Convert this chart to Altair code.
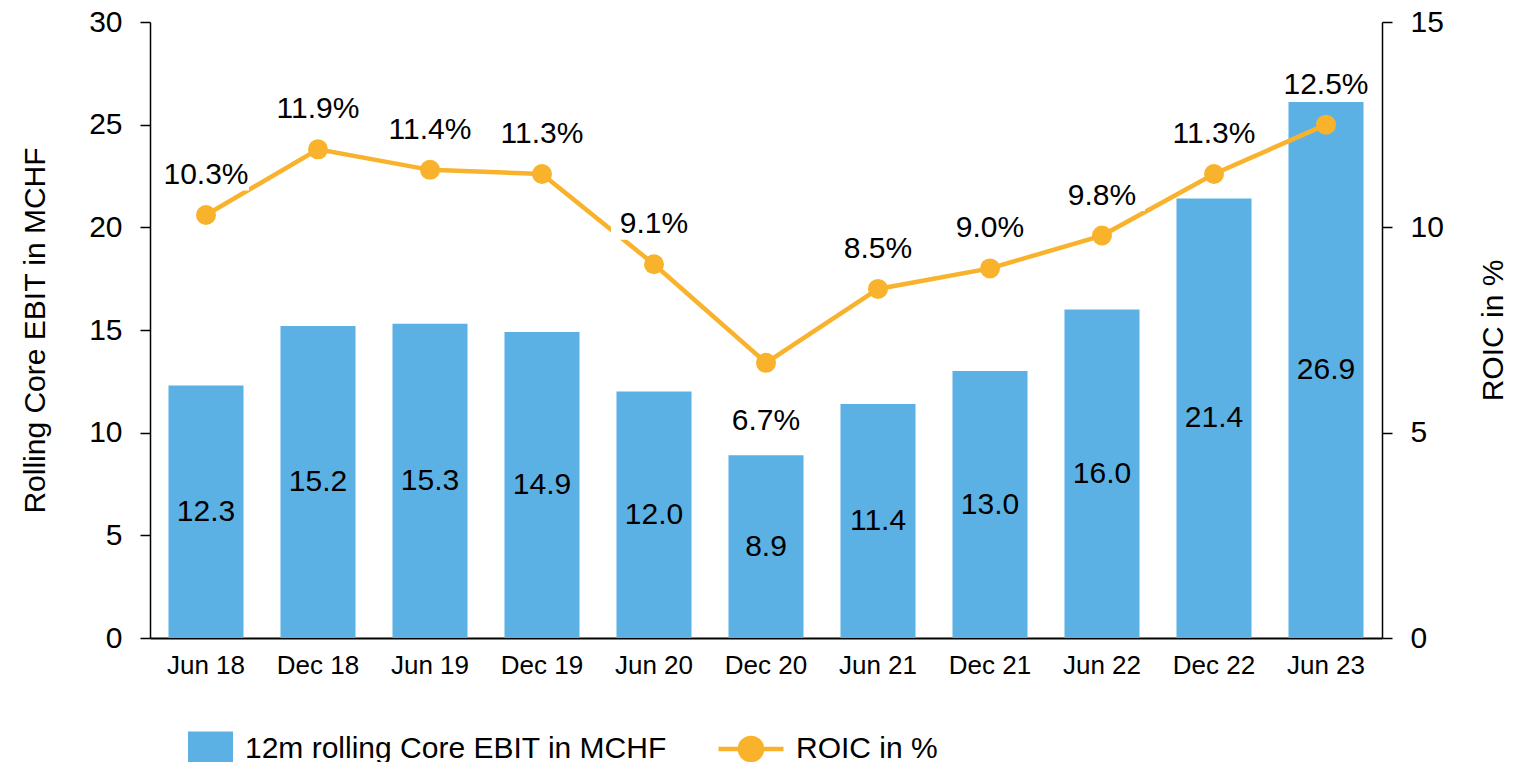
import altair as alt
import pandas as pd

categories = ["Jun 18", "Dec 18", "Jun 19", "Dec 19", "Jun 20", "Dec 20",
              "Jun 21", "Dec 21", "Jun 22", "Dec 22", "Jun 23"]
ebit = [12.3, 15.2, 15.3, 14.9, 12.0, 8.9, 11.4, 13.0, 16.0, 21.4, 26.1]
ebit_labels = ["12.3", "15.2", "15.3", "14.9", "12.0", "8.9", "11.4", "13.0", "16.0", "21.4", "26.9"]
roic = [10.3, 11.9, 11.4, 11.3, 9.1, 6.7, 8.5, 9.0, 9.8, 11.3, 12.5]
roic_labels = ["10.3%", "11.9%", "11.4%", "11.3%", "9.1%", "6.7%", "8.5%", "9.0%", "9.8%", "11.3%", "12.5%"]

bar_name = "12m rolling Core EBIT in MCHF"
line_name = "ROIC in %"
BLUE = "#5CB1E4"
ORANGE = "#F9B22B"
FONT = "Liberation Sans"

df = pd.DataFrame({
    "cat": categories,
    "ebit": ebit,
    "ebit_label": ebit_labels,
    "roic": roic,
    "roic_label": roic_labels,
})

base = alt.Chart(df).encode(
    x=alt.X("cat:N", sort=categories, title=None,
            scale=alt.Scale(paddingInner=0.33, paddingOuter=0.165),
            axis=alt.Axis(labelAngle=0, ticks=False, labelFontSize=26, labelPadding=14,
                          domainColor="black", domainWidth=2))
)

y_left = alt.Scale(domain=[0, 30], nice=False)
y_right = alt.Scale(domain=[0, 15], nice=False)
left_title = "Rolling Core EBIT in MCHF"
right_title = "ROIC in %"
left_axis = alt.Axis(values=[0, 5, 10, 15, 20, 25, 30], orient="left",
                     titlePadding=38, titleFontSize=30, titleFontWeight="normal")
right_axis = alt.Axis(values=[0, 5, 10, 15], orient="right", titleAngle=270,
                      titlePadding=65, titleFontSize=30, titleFontWeight="normal")

def yl(field):
    return alt.Y(field, scale=y_left, title=left_title, axis=left_axis)

def yr(field):
    return alt.Y(field, scale=y_right, title=right_title, axis=right_axis)

bars = base.mark_bar(width={"band": 1}).encode(
    y=yl("ebit:Q"),
    fill=alt.Fill("s1:N", scale=alt.Scale(domain=[bar_name], range=[BLUE]),
                  legend=alt.Legend(title=None, orient="none", legendX=38, legendY=704,
                                    symbolType="M-1,-0.76H1V0.76H-1Z", symbolSize=2025,
                                    symbolStrokeWidth=0, labelFontSize=30, labelOffset=12,
                                    labelLimit=0, padding=0)),
).transform_calculate(s1=f"'{bar_name}'")

bar_text = base.mark_text(fontSize=30, font=FONT, color="black", baseline="middle").encode(
    y=yl("mid:Q"),
    text="ebit_label:N",
).transform_calculate(mid="datum.ebit / 2")

left = alt.layer(bars, bar_text)

line = base.mark_line(strokeWidth=4.5).encode(
    y=yr("roic:Q"),
    stroke=alt.Stroke("s2:N", scale=alt.Scale(domain=[line_name], range=[ORANGE]),
                      legend=alt.Legend(title=None, orient="none", legendX=566, legendY=692,
                                        symbolType="M-1,0H1M-0.34,0a0.34,0.34 0 1,0 0.68,0a0.34,0.34 0 1,0 -0.68,0",
                                        symbolSize=4225, symbolStrokeWidth=4.5,
                                        symbolFillColor=ORANGE, labelFontSize=30,
                                        labelOffset=10, labelLimit=0, padding=0)),
).transform_calculate(s2=f"'{line_name}'")

others = base.transform_filter(alt.datum.cat != "Dec 20")
below = base.transform_filter(alt.datum.cat == "Dec 20")

boxes_above = others.mark_point(shape="M-1,-0.36H1V0.36H-1Z", size=7400, filled=True,
                                color="white", opacity=1, strokeWidth=0, yOffset=-40).encode(
    y=yr("roic:Q"))

labels_above = others.mark_text(fontSize=30, font=FONT, color="black", baseline="middle", dy=-40).encode(
    y=yr("roic:Q"), text="roic_label:N")
labels_below = below.mark_text(fontSize=30, font=FONT, color="black", baseline="middle", dy=58).encode(
    y=yr("roic:Q"), text="roic_label:N")

points = base.mark_point(filled=True, size=400, color=ORANGE, opacity=1).encode(
    y=yr("roic:Q"))

right = alt.layer(line, boxes_above, labels_above, labels_below, points)

chart = alt.layer(left, right).resolve_scale(y="independent").properties(
    width=1232, height=616,
    autosize=alt.AutoSizeParams(type="none"),
    padding={"left": 142, "top": 14, "right": 126, "bottom": 124},
).configure_view(stroke=None).configure_axis(
    grid=False, labelFont=FONT, titleFont=FONT, labelColor="black", titleColor="black",
    labelFontSize=30, domainColor="black", domainWidth=1.5, tickColor="black",
    tickWidth=1.5, tickSize=10, labelPadding=18,
).configure_legend(labelFont=FONT, labelColor="black")

chart.save("out.html", embed_options={"renderer": "svg", "actions": False})
